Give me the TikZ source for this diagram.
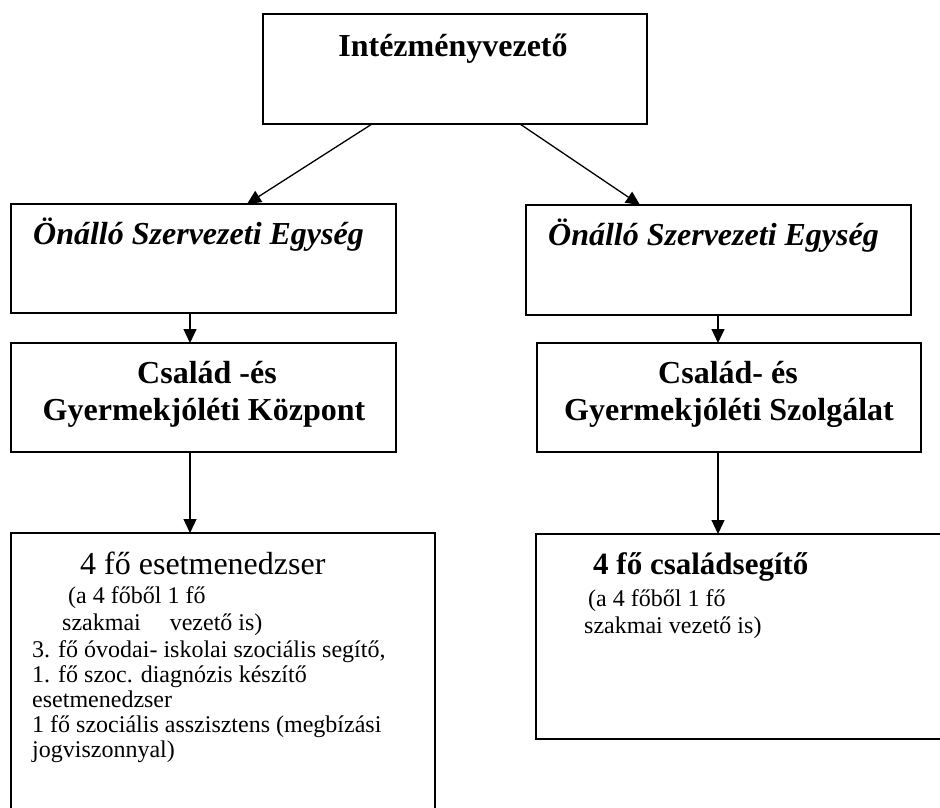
\documentclass[tikz,border=0pt]{standalone}
\usepackage{fontspec}
\setmainfont{Liberation Serif}
\usetikzlibrary{arrows.meta}
\begin{document}
\begin{tikzpicture}[x=1pt,y=1pt,
 box/.style={draw, line width=1.3pt, inner sep=0, outer sep=0},
 conn/.style={line width=1.3pt, -{Triangle[length=14pt,width=13pt]}},
 head/.style={font=\fontsize{32}{37}\selectfont\bfseries, inner sep=0, anchor=base},
 headit/.style={font=\fontsize{32}{37}\selectfont\bfseries\itshape, inner sep=0, anchor=base west},
 body/.style={font=\fontsize{24}{25}\selectfont, inner sep=0, anchor=base west},
 big/.style={font=\fontsize{32}{37}\selectfont, inner sep=0, anchor=base west},
 bigb/.style={font=\fontsize{31}{36}\selectfont\bfseries, inner sep=0, anchor=base west}]
\clip (0,0) rectangle (940,-807);
\fill[white] (0,0) rectangle (940,-807);
% boxes
\node[box, minimum width=384pt, minimum height=110pt] (top) at (455,-69) {};
\node[box, minimum width=385pt, minimum height=109pt] (oseL) at (203.5,-258.5) {};
\node[box, minimum width=385pt, minimum height=110pt] (oseR) at (718.5,-260) {};
\node[box, minimum width=385pt, minimum height=109pt] (csgyk) at (203.5,-397.5) {};
\node[box, minimum width=384pt, minimum height=109pt] (csgysz) at (729,-397.5) {};
\node[box, minimum width=424pt, minimum height=287pt] (lowL) at (223,-676.5) {};
\node[box, minimum width=414pt, minimum height=205pt] (lowR) at (743,-636.5) {};
% connectors
\draw[conn] ([xshift=109pt]top.south west) -- ([xshift=236pt]oseL.north west);
\draw[conn] ([xshift=257pt]top.south west) -- ([xshift=114pt]oseR.north west);
\draw[conn] ([xshift=179pt]oseL.south west) -- ([xshift=179pt]csgyk.north west);
\draw[conn] ([xshift=192pt]oseR.south west) -- ([xshift=181pt]csgysz.north west);
\draw[conn] ([xshift=179pt]csgyk.south west) -- ([xshift=179pt]lowL.north west);
\draw[conn] ([xshift=181pt]csgysz.south west) -- ([xshift=182pt]lowR.north west);
% texts
\node[head] (t1) at (453,-56) {Intézményvezető};
\node[headit] (t2) at (33,-244) {Önálló Szervezeti Egység};
\node[headit] (t3) at (548,-245) {Önálló Szervezeti Egység};
\node[head] (t4) at (207,-383) {Család -és};
\node[head] (t5) at (204,-420) {Gyermekjóléti Központ};
\node[head] (t6) at (728,-383) {Család- és};
\node[head] (t7) at (729,-420) {Gyermekjóléti Szolgálat};
\node[big] (l1) at (80,-574) {4 fő esetmenedzser};
\node[body] (l2) at (68,-603) {(a 4 főből 1 fő};
\node[body] (l3) at (62,-630) {szakmai\hspace{29pt}vezető is)};
\node[body] (l4) at (32,-657) {3. fő óvodai- iskolai szociális segítő,};
\node[body] (l5) at (32,-682) {1. fő szoc. diagnózis készítő};
\node[body] (l6) at (32,-707) {esetmenedzser};
\node[body] (l7) at (32,-732) {1 fő szociális asszisztens (megbízási};
\node[body] (l8) at (32,-757) {jogviszonnyal)};
\node[bigb] (r1) at (593,-574) {4 fő családsegítő};
\node[body] (r2) at (588,-606) {(a 4 főből 1 fő};
\node[body] (r3) at (584,-633) {szakmai vezető is)};
\end{tikzpicture}
\end{document}
